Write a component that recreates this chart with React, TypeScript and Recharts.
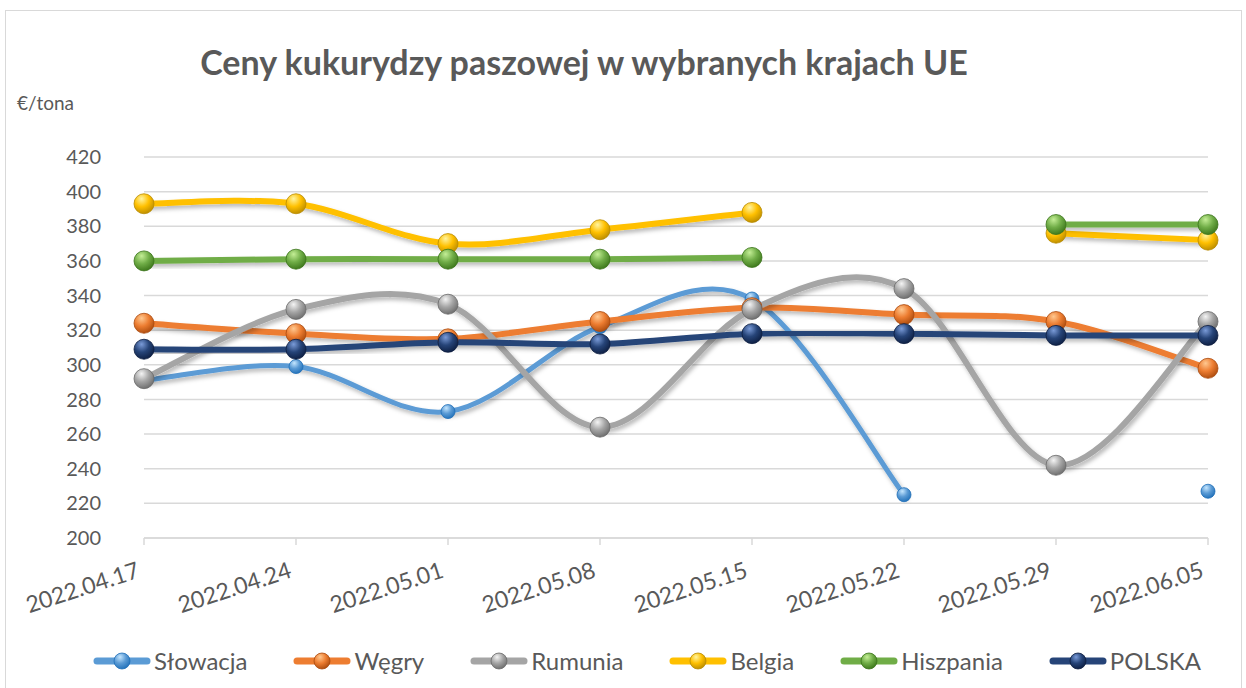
import React from "react"
import { LineChart, Line, XAxis, YAxis, CartesianGrid } from "recharts"

const dates = ["2022.04.17", "2022.04.24", "2022.05.01", "2022.05.08", "2022.05.15", "2022.05.22", "2022.05.29", "2022.06.05"]
const slowacja = [291, 299, 273, 322, 338, 225, null, 227]
const wegry = [324, 318, 315, 325, 333, 329, 325, 298]
const rumunia = [292, 332, 335, 264, 332, 344, 242, 325]
const belgia = [393, 393, 370, 378, 388, null, 376, 372]
const hiszpania = [360, 361, 361, 361, 362, null, 381, 381]
const polska = [309, 309, 313, 312, 318, 318, 317, 317]
const yTicks = [200, 220, 240, 260, 280, 300, 320, 340, 360, 380, 400, 420]

const series = [
  { key: "slowacja", name: "Słowacja", values: slowacja, color: "#5B9BD5", light: "#C4E6FF", dark: "#1F6FB8", r: 7, w: 5 },
  { key: "wegry", name: "Węgry", values: wegry, color: "#ED7D31", light: "#FFC890", dark: "#A9490C", r: 10, w: 6 },
  { key: "rumunia", name: "Rumunia", values: rumunia, color: "#A5A5A5", light: "#F4F4F4", dark: "#6A6A6A", r: 10, w: 6 },
  { key: "belgia", name: "Belgia", values: belgia, color: "#FFC000", light: "#FFF4A0", dark: "#B88A00", r: 10, w: 6 },
  { key: "hiszpania", name: "Hiszpania", values: hiszpania, color: "#70AD47", light: "#C4EE96", dark: "#3A7419", r: 10, w: 6 },
  { key: "polska", name: "POLSKA", values: polska, color: "#264478", light: "#7A9BD8", dark: "#0C1D40", r: 10, w: 6 },
]

const data = dates.map((d, i) => {
  const row: any = { date: d }
  series.forEach((s) => (row[s.key] = s.values[i]))
  return row
})

const FONT = "Lato, 'Open Sans', sans-serif"
const TEXT = "#595959"

// Excel-like smoothing (Catmull-Rom as cubic beziers)
const excelSmooth = (context: any) => {
  let pts: number[][] = []
  return {
    areaStart() {},
    areaEnd() {},
    lineStart() {
      pts = []
    },
    point(x: number, y: number) {
      pts.push([+x, +y])
    },
    lineEnd() {
      if (!pts.length) return
      context.moveTo(pts[0][0], pts[0][1])
      for (let i = 0; i < pts.length - 1; i++) {
        const p0 = pts[Math.max(i - 1, 0)]
        const p1 = pts[i]
        const p2 = pts[i + 1]
        const p3 = pts[Math.min(i + 2, pts.length - 1)]
        context.bezierCurveTo(
          p1[0] + (p2[0] - p0[0]) / 6,
          p1[1] + (p2[1] - p0[1]) / 6,
          p2[0] - (p3[0] - p1[0]) / 6,
          p2[1] - (p3[1] - p1[1]) / 6,
          p2[0],
          p2[1]
        )
      }
    },
  }
}

function Sphere({ cx, cy, r, id, dark }: any) {
  if (cx == null || cy == null) return null
  return <circle cx={cx} cy={cy} r={r} fill={`url(#sph-${id})`} stroke={dark} strokeWidth={0.8} />
}

function DateTick({ x, y, payload }: any) {
  return (
    <g transform={`translate(${x - 3},${y + 30})`}>
      <text x={0} y={0} textAnchor="end" transform="rotate(-18)" fill={TEXT} fontSize={23} fontFamily={FONT}>
        {payload.value}
      </text>
    </g>
  )
}

export default function App() {
  return (
    <div style={{ position: "absolute", left: 0, top: 0, width: 1246, height: 688, background: "#fff", overflow: "hidden", fontFamily: FONT }}>
      <svg width={0} height={0} style={{ position: "absolute" }}>
        <defs>
          {series.map((s) => (
            <radialGradient key={s.key} id={`sph-${s.key}`} cx="38%" cy="30%" r="75%" fx="38%" fy="25%">
              <stop offset="0%" stopColor={s.light} />
              <stop offset="50%" stopColor={s.color} />
              <stop offset="100%" stopColor={s.dark} />
            </radialGradient>
          ))}
          <filter id="lineShadow" x="-10%" y="-10%" width="120%" height="130%">
            <feDropShadow dx="2" dy="3" stdDeviation="2" floodColor="#000" floodOpacity="0.28" />
          </filter>
        </defs>
      </svg>
      <div style={{ position: "absolute", left: 5, top: 10, width: 1235, height: 700, border: "1px solid #D9D9D9" }} />
      <div style={{ position: "absolute", left: 0, top: 41, width: 1168, textAlign: "center", fontSize: 34, fontWeight: 700, color: TEXT }}>
        Ceny kukurydzy paszowej w wybranych krajach UE
      </div>
      <div style={{ position: "absolute", left: 17, top: 91, fontSize: 19, color: TEXT }}>€/tona</div>
      <div style={{ position: "absolute", left: 0, top: 0 }}>
        <LineChart width={1246} height={688} data={data} margin={{ top: 157, right: 38, left: 84, bottom: 80 }}>
          <CartesianGrid vertical={false} stroke="#D9D9D9" strokeWidth={1.5} />
          <XAxis
            dataKey="date"
            height={70}
            stroke="#D9D9D9"
            strokeWidth={1.5}
            tickSize={7}
            tickLine={{ stroke: "#D9D9D9", strokeWidth: 1.5 }}
            tick={<DateTick />}
            interval={0}
          />
          <YAxis
            width={60}
            domain={[200, 420]}
            ticks={yTicks}
            axisLine={false}
            tickLine={false}
            tickSize={0}
            tickMargin={43}
            tick={{ fill: TEXT, fontSize: 20, fontFamily: FONT }}
          />
          {series.map((s) => (
            <Line
              key={s.key}
              dataKey={s.key}
              name={s.name}
              type={excelSmooth as any}
              stroke={s.color}
              strokeWidth={s.w}
              strokeLinecap="round"
              filter="url(#lineShadow)"
              dot={(p: any) => <Sphere key={`${s.key}-${p.index}`} cx={p.cx} cy={p.cy} r={s.r} id={s.key} dark={s.dark} />}
              activeDot={false}
              isAnimationActive={false}
            />
          ))}
        </LineChart>
      </div>
      <div style={{ position: "absolute", left: 0, top: 646, width: 1294, display: "flex", justifyContent: "center", gap: 46, fontSize: 24, color: TEXT }}>
        {series.map((s) => (
          <div key={s.key} style={{ display: "flex", alignItems: "center", gap: 3 }}>
            <svg width={58} height={28}>
              <line x1={4} y1={14} x2={54} y2={14} stroke={s.color} strokeWidth={7} strokeLinecap="round" />
              <circle cx={29} cy={14} r={8} fill={`url(#sph-${s.key})`} stroke={s.dark} strokeWidth={0.8} />
            </svg>
            <span>{s.name}</span>
          </div>
        ))}
      </div>
    </div>
  )
}
